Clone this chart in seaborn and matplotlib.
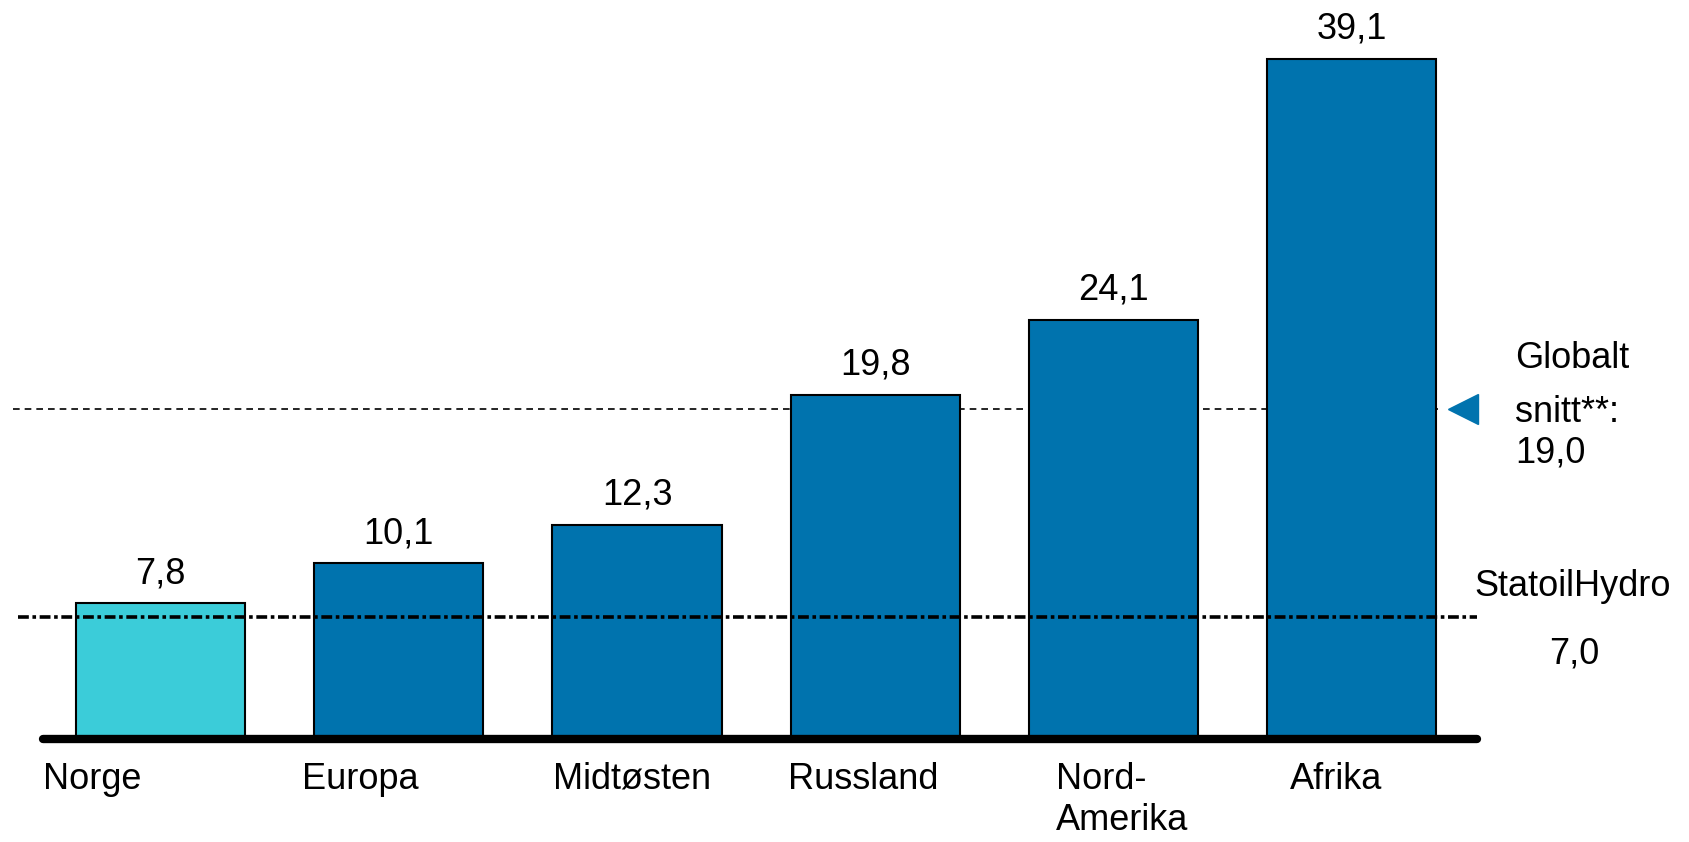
import pandas as pd
import matplotlib.pyplot as plt
import seaborn as sns

# Data
regions = ["Norge", "Europa", "Midtøsten", "Russland", "Nord-\nAmerika", "Afrika"]
values = [7.8, 10.1, 12.3, 19.8, 24.1, 39.1]
bar_colors = ["#3BCCD9", "#0073AE", "#0073AE", "#0073AE", "#0073AE", "#0073AE"]
global_avg = 19.0
company_avg = 7.0

sns.set_theme(style="white")
plt.rcParams['font.family'] = ['Liberation Sans', 'DejaVu Sans']

df = pd.DataFrame({"region": regions, "value": values})

fig = plt.figure(figsize=(16.9, 8.42), dpi=100)
ax = fig.add_axes([0.0254, 0.1223, 0.8486, 0.8675])

# global average line sits behind the bars
ax.plot([-0.62, 5.36], [global_avg, global_avg], color="black", lw=1.2,
        ls=(0, (4, 3)), clip_on=False, zorder=0)

sns.barplot(data=df, x="region", y="value", hue="region", palette=bar_colors,
            saturation=1, width=0.71, edgecolor="black", linewidth=1.5,
            legend=False, ax=ax, zorder=2)

# company average line on top of bars
ax.plot([-0.6, 5.526], [company_avg, company_avg], color="black", lw=2.6,
        ls=(0, (3, 1, 1, 1)), clip_on=False, zorder=4)

# thick base line
ax.plot([-0.494, 5.526], [0, 0], color="black", lw=6, solid_capstyle="round",
        clip_on=False, zorder=5)

ax.set_xlim(-0.494, 5.526)
ax.set_ylim(0, 42)
ax.axis("off")

fs = 26
for i, v in enumerate(values):
    ax.text(i, v + 0.7, f"{v:.1f}".replace(".", ","), ha="center", va="bottom",
            fontsize=fs, color="black")

label_offsets = [-0.494, -0.407, -0.353, -0.366, -0.241, -0.259]
for i, (name, off) in enumerate(zip(regions, label_offsets)):
    ax.text(i + off, -1.3, name, ha="left", va="top", fontsize=fs,
            color="black", linespacing=1.25, clip_on=False)

# global average marker and text
ax.plot([5.467], [global_avg], marker="<", markersize=22, color="#0073AE",
        clip_on=False, zorder=5)
ax.text(1515 / 1690, 1 - 358 / 842, "Globalt", transform=fig.transFigure,
        ha="left", va="center", fontsize=fs, color="black")
ax.text(1515 / 1690, 1 - 412 / 842, "snitt**:", transform=fig.transFigure,
        ha="left", va="center", fontsize=fs, color="black")
ax.text(1515 / 1690, 1 - 453 / 842, "19,0", transform=fig.transFigure,
        ha="left", va="center", fontsize=fs, color="black")

ax.text(1474 / 1690, 1 - 587 / 842, "StatoilHydro", transform=fig.transFigure,
        ha="left", va="center", fontsize=fs, color="black")
ax.text(1574 / 1690, 1 - 654 / 842, "7,0", transform=fig.transFigure,
        ha="center", va="center", fontsize=fs, color="black")

fig.savefig("out.png", dpi=100)
